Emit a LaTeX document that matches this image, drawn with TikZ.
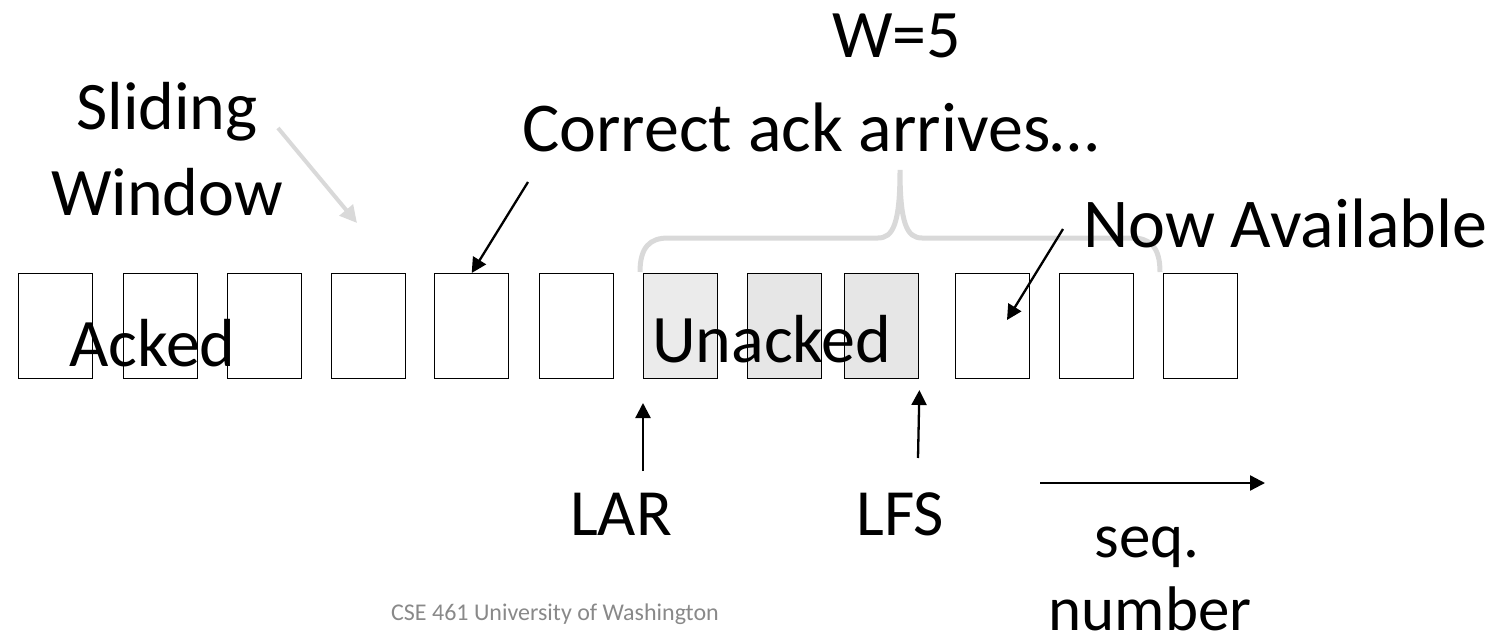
\documentclass[tikz,border=0pt]{standalone}
\usepackage{fontspec}
\setmainfont{Carlito}
\usetikzlibrary{arrows.meta}
\definecolor{hintgray}{HTML}{D9D9D9}
\definecolor{cellA}{HTML}{EBEBEB}
\definecolor{cellB}{HTML}{E6E6E6}
\definecolor{footgray}{HTML}{898989}
\begin{document}
\begin{tikzpicture}[x=1pt,y=-1pt,
  big/.style={font=\fontsize{68}{80}\selectfont, inner sep=0pt},
  mid/.style={font=\fontsize{63}{76}\selectfont, inner sep=0pt},
  cell/.style={draw=black, line width=1.4pt, minimum width=74pt, minimum height=105pt, inner sep=0pt, anchor=north west},
  ptr/.style={line width=2.3pt, -{Triangle[length=15pt,width=15pt]}},
  hint/.style={draw=hintgray, line width=4pt, -{Triangle[length=17pt,width=17pt]}},
  bracestyle/.style={draw=hintgray, line width=5pt}
]
\useasboundingbox (0,0) rectangle (1501,639);

% cells
\node[cell] (b1) at (18,273) {};
\node[cell] (b2) at (123,273) {};
\node[cell] (b3) at (227,273) {};
\node[cell] (b4) at (331,273) {};
\node[cell] (b5) at (434,273) {};
\node[cell] (b6) at (539,273) {};
\node[cell, fill=cellA] (b7) at (643,273) {};
\node[cell, fill=cellB] (b8) at (747,273) {};
\node[cell, fill=cellB] (b9) at (844,273) {};
\node[cell] (b10) at (955,273) {};
\node[cell] (b11) at (1059,273) {};
\node[cell] (b12) at (1163,273) {};

% brace over the window
\draw[bracestyle] (640,272) .. controls (640,247) and (650,238) .. (668,238)
  -- (878,238) .. controls (893,238) and (900,224) .. (900,170)
  .. controls (900,224) and (907,238) .. (922,238)
  -- (1132,238) .. controls (1150,238) and (1160,247) .. (1160,272);

% texts
\node[big, anchor=base west] (w5) at (832,58) {W=5};
\node[big, anchor=base] (sliding) at (167,130) {Sliding};
\node[big, anchor=base] (window) at (167,215) {Window};
\node[font=\fontsize{70}{80}\selectfont, inner sep=0pt, anchor=base west] (correct) at (522,152) {Correct ack arrives…};
\node[font=\fontsize{70}{80}\selectfont, inner sep=0pt, anchor=base west] (avail) at (1083,247) {Now Available};
\node[big, anchor=base west] (acked) at (69,366) {Acked};
\node[big, anchor=base west] (unacked) at (652,362) {Unacked};
\node[font=\fontsize{66}{80}\selectfont, inner sep=0pt, anchor=base] (lar) at (621,535) {LAR};
\node[font=\fontsize{66}{80}\selectfont, inner sep=0pt, anchor=base] (lfs) at (900,535) {LFS};
\node[mid, anchor=base] (seq) at (1147,557) {seq.};
\node[mid, anchor=base] (number) at (1150,630) {number};
\node[font=\fontsize{24}{28}\selectfont, text=footgray, inner sep=0pt, anchor=base] (footer) at (555,620) {CSE 461 University of Washington};

% connector end points
\coordinate (hintS) at (278,128);
\coordinate (hintE) at (357,223);
\coordinate (corrS) at (528,182);
\coordinate (availS) at (1063,229);
\coordinate (availE) at (1007,320);
\coordinate (larS) at (643,471);
\coordinate (lfsS) at (918,458);
\coordinate (seqS) at (1040,483);
\coordinate (seqE) at (1265,483);

\draw[hint] (hintS) -- (hintE);
\draw[ptr] (corrS) -- (b5.north);
\draw[ptr] (availS) -- (availE);
\draw[ptr] (larS) -- (b7.south west |- 0,403);
\draw[ptr] (lfsS) -- (b9.south east |- 0,390);
\draw[ptr] (seqS) -- (seqE);
\end{tikzpicture}
\end{document}
